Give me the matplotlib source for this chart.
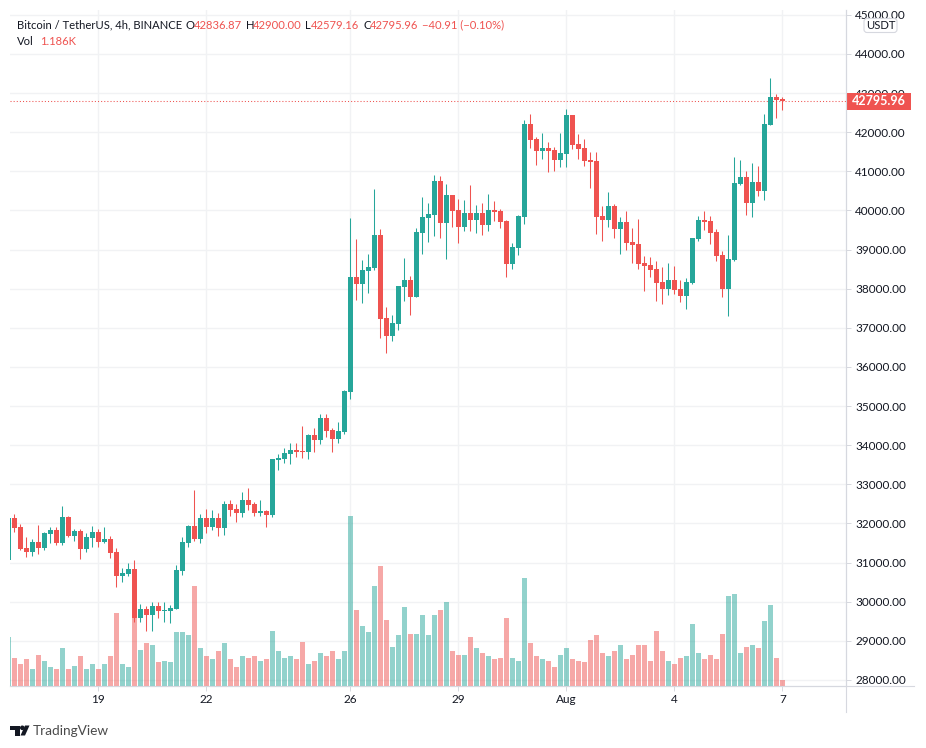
"""BTC/USDT 4h candlestick chart with volume overlay."""

import matplotlib
matplotlib.use("Agg")

import matplotlib.pyplot as plt
from matplotlib.patches import Circle, FancyBboxPatch, Polygon, Rectangle

W, H = 926, 748
UP = "#26a69a"
DOWN = "#ef5350"
GRID = "#f1f2f4"
AXIS = "#d6d8df"
TEXT = "#131722"
FONT = "Lato"

# candles, oldest first
opens = [
    31060, 32139, 31909, 31372, 31270, 31526, 31372, 31730, 31832, 31500,
    32165, 31679, 31807, 31347, 31628, 31781, 31526, 31602, 31270, 30657,
    30708, 30836, 29583, 29813, 29660, 29890, 29762, 29762, 29813, 30784,
    31500, 31935, 31602, 32139, 31909, 32139, 31884, 32497, 32369, 32267,
    32599, 32497, 32267, 32318, 32216, 33622, 33647, 33775, 33877, 33851,
    33825, 34260, 34132, 34695, 34388, 34158, 34337, 35359, 38298, 38120,
    38452, 38529, 39372, 37251, 36790, 37097, 38043, 38222, 37787, 39423,
    39807, 39883, 40752, 39679, 40394, 40011, 39576, 39934, 39755, 39934,
    39628, 40011, 39985, 39730, 38631, 39040, 39832, 42209, 41825, 41519,
    41595, 41544, 41289, 41442, 42439, 41698, 41595, 41289, 41263, 39857,
    39755, 40113, 39525, 39704, 39193, 39142, 38656, 38605, 38503, 38170,
    37991, 38221, 37991, 37812, 38145, 39269, 39755, 39729, 39448, 38860,
    37991, 38733, 40675, 40854, 40190, 40726, 40496, 42183, 42899, 42836.87,
]
closes = [
    32130, 31892, 31347, 31270, 31526, 31372, 31756, 31832, 31500, 32165,
    31679, 31807, 31347, 31653, 31781, 31526, 31602, 31245, 30657, 30733,
    30836, 29583, 29813, 29660, 29890, 29762, 29788, 29839, 30810, 31526,
    31935, 31602, 32139, 31909, 32139, 31884, 32497, 32344, 32267, 32599,
    32471, 32267, 32318, 32216, 33647, 33673, 33801, 33877, 33826, 33825,
    34260, 34132, 34695, 34362, 34158, 34362, 35385, 38298, 38120, 38477,
    38554, 39372, 37225, 36790, 37123, 38068, 38222, 37787, 39449, 39832,
    39909, 40752, 39679, 40394, 39985, 39576, 39934, 39755, 39934, 39628,
    40011, 39960, 39704, 38631, 39065, 39858, 42209, 41800, 41519, 41595,
    41519, 41289, 41468, 42439, 41672, 41570, 41263, 41237, 39832, 39755,
    40113, 39525, 39704, 39167, 39116, 38630, 38579, 38477, 38145, 37991,
    38221, 37966, 37812, 38170, 39295, 39755, 39704, 39423, 38835, 37991,
    38758, 40701, 40854, 40190, 40726, 40496, 42209, 42899, 42822, 42795.96,
]
highs = [
    32130, 32241, 31986, 31653, 31602, 31960, 31781, 31909, 31909, 32446,
    32190, 31858, 31858, 31756, 31935, 31858, 31909, 31679, 31372, 30861,
    30989, 31066, 29941, 29890, 29992, 29992, 29992, 29915, 30938, 31653,
    31960, 32855, 32241, 32369, 32344, 32267, 32574, 32599, 32497, 32804,
    32906, 32548, 32599, 32344, 33647, 33775, 33928, 34056, 34056, 34490,
    34286, 34439, 34797, 34797, 34439, 34592, 35410, 39807, 39270, 38733,
    38886, 40548, 39525, 37532, 37327, 38068, 38784, 38324, 39551, 40343,
    40190, 40906, 40880, 40676, 40394, 40292, 40267, 40650, 40139, 40190,
    40420, 40241, 40037, 39755, 39168, 39883, 42311, 42464, 41876, 41979,
    41749, 41621, 41979, 42592, 42439, 41953, 41825, 41493, 41493, 40113,
    40471, 40164, 39832, 39985, 39551, 39781, 38835, 38809, 38707, 38554,
    38656, 38579, 38221, 38273, 39295, 39857, 39985, 39857, 39525, 38963,
    39372, 41365, 41289, 41007, 41212, 41135, 42464, 43385, 42976, 42900.00,
]
lows = [
    31060, 31790, 31321, 31142, 31168, 31219, 31321, 31500, 31449, 31449,
    31653, 31551, 31091, 31270, 31398, 31398, 31500, 31117, 30375, 30503,
    30657, 29481, 29481, 29251, 29251, 29583, 29481, 29455, 29813, 30682,
    31398, 31551, 31500, 31756, 31832, 31679, 31705, 32190, 32037, 32165,
    32344, 32190, 32190, 31909, 32165, 33366, 33545, 33519, 33698, 33672,
    33647, 33825, 34030, 34209, 33825, 34056, 34286, 35180, 37711, 37634,
    37890, 38477, 36739, 36356, 36663, 36944, 37685, 37327, 37787, 38886,
    39193, 39346, 39295, 38759, 39576, 39168, 39474, 39474, 39423, 39372,
    39474, 39730, 39551, 38298, 38503, 38861, 39653, 41595, 41161, 41314,
    40982, 41007, 41110, 41110, 41570, 41314, 41135, 40573, 39397, 39218,
    39576, 39295, 38886, 38988, 38656, 38503, 37940, 38298, 37685, 37608,
    37838, 37864, 37659, 37480, 38119, 39218, 39499, 39142, 38707, 37787,
    37301, 38707, 40650, 39883, 39832, 40368, 40266, 42183, 42362, 42579.16,
]
# volume in thousands of BTC
volumes = [
    11.4, 6.6, 5.2, 6.2, 4.0, 7.3, 5.9, 4.5, 3.8, 8.8,
    4.0, 4.7, 6.9, 4.0, 5.0, 4.0, 5.2, 7.1, 17.3, 5.2,
    4.3, 15.9, 8.5, 10.0, 9.5, 5.5, 5.7, 5.5, 12.8, 12.6,
    11.9, 23.5, 8.8, 6.9, 6.4, 8.1, 10.0, 6.4, 4.5, 7.1,
    6.6, 6.9, 5.7, 6.4, 13.0, 8.3, 6.6, 7.1, 6.2, 10.4,
    5.2, 5.9, 7.8, 7.1, 8.1, 6.4, 8.3, 40.1, 18.0, 14.0,
    12.8, 23.5, 28.4, 15.6, 9.2, 11.9, 18.5, 12.3, 12.1, 16.8,
    11.9, 16.8, 18.0, 19.7, 8.3, 7.3, 7.3, 11.6, 9.0, 7.6,
    6.9, 6.2, 6.6, 16.1, 6.6, 5.9, 25.4, 10.0, 6.9, 6.4,
    5.9, 4.5, 7.3, 8.8, 6.4, 5.7, 5.5, 10.9, 11.9, 7.8,
    7.1, 8.3, 9.5, 6.4, 7.3, 9.7, 9.5, 5.7, 13.0, 8.3,
    5.7, 5.2, 6.6, 7.1, 14.7, 7.8, 6.4, 7.3, 6.4, 12.1,
    21.3, 21.6, 7.8, 9.2, 9.5, 8.8, 15.2, 19.2, 6.6, 1.186,
]

date_ticks = [15, 33, 57, 75, 93, 111, 129]
date_labels = ["19", "22", "26", "29", "Aug", "4", "7"]
price_ticks = list(range(28000, 45001, 1000))

last_close = closes[-1]
bar_ids = list(range(len(opens)))
colors = [UP if c >= o else DOWN for o, c in zip(opens, closes)]

plt.rcParams["font.family"] = [FONT, "DejaVu Sans"]
plt.rcParams["font.size"] = 8.5

fig = plt.figure(figsize=(W / 100, H / 100), dpi=100, facecolor="white")
rect = [10 / W, 1 - 685.5 / H, 836 / W, 675.5 / H]

# grid, ticks and price scale sit on the bottom axes
ax = fig.add_axes(rect, zorder=1)
ax.set_xlim(0.28, 139.6)
ax.set_ylim(27859, 45122)
ax.yaxis.tick_right()
ax.set_yticks(price_ticks)
ax.set_yticklabels([f"{p:.2f}" for p in price_ticks], color=TEXT)
ax.set_xticks(date_ticks)
ax.set_xticklabels(date_labels, color=TEXT)
ax.tick_params(axis="both", length=3.6, width=0.7, color=AXIS, pad=3)
ax.tick_params(axis="x", pad=2.5)
ax.grid(True, color=GRID, linewidth=1)
ax.set_axisbelow(True)
for side in ("top", "left"):
    ax.spines[side].set_visible(False)
for side in ("right", "bottom"):
    ax.spines[side].set_color(AXIS)
    ax.spines[side].set_linewidth(0.8)

# volume overlay
ax_vol = fig.add_axes(rect, zorder=2, sharex=ax)
ax_vol.set_ylim(0, 160.2)
ax_vol.patch.set_visible(False)
ax_vol.axis("off")
ax_vol.bar(bar_ids, volumes, width=0.83, color=colors, alpha=0.5, linewidth=0)

# candles on top
ax_c = fig.add_axes(rect, zorder=3, sharex=ax, sharey=ax)
ax_c.patch.set_visible(False)
ax_c.axis("off")
ax_c.axhline(last_close, color=DOWN, linewidth=0.75, linestyle=(0, (1, 2)), zorder=1)
ax_c.vlines(bar_ids, lows, highs, colors=colors, linewidth=0.75, zorder=2)
ax_c.bar(
    bar_ids,
    [abs(c - o) for o, c in zip(opens, closes)],
    bottom=[min(o, c) for o, c in zip(opens, closes)],
    width=0.83,
    color=colors,
    linewidth=0,
    zorder=3,
)

# last price tag on the scale
tag_trans = ax_c.get_yaxis_transform()
ax_c.add_patch(
    Rectangle(
        (1.0, last_close - 217), 65 / 836, 434,
        transform=tag_trans, facecolor=DOWN, edgecolor="none",
        clip_on=False, zorder=4,
    )
)
ax_c.text(
    1.0 + 32.5 / 836,
    last_close,
    f"{last_close:.2f}",
    transform=tag_trans,
    color="white",
    fontweight="bold",
    fontsize=9,
    va="center",
    ha="center",
    clip_on=False,
    zorder=5,
)

# overlay in pixel coordinates for header, badge, logo
ov = fig.add_axes([0, 0, 1, 1], zorder=4)
ov.set_xlim(0, W)
ov.set_ylim(H, 0)
ov.axis("off")

ov.plot([846, 846], [10, 712], color=AXIS, linewidth=0.8)
ov.plot([10, 914], [685.5, 685.5], color=AXIS, linewidth=0.8)

header = [
    (17, "Bitcoin / TetherUS, 4h, BINANCE", TEXT),
    (186, "O", TEXT),
    (194, "42836.87", DOWN),
    (246, "H", TEXT),
    (253, "42900.00", DOWN),
    (305, "L", TEXT),
    (311, "42579.16", DOWN),
    (363, "C", TEXT),
    (370, "42795.96", DOWN),
    (422, "\u221240.91 (\u22120.10%)", DOWN),
]
for x, label, color in header:
    ov.text(x, 25, label, color=color, fontsize=8.1, va="center", ha="left")
ov.text(17, 41, "Vol", color=TEXT, fontsize=8.1, va="center", ha="left")
ov.text(40, 41, "1.186K", color=DOWN, fontsize=8.1, va="center", ha="left")

ov.add_patch(
    FancyBboxPatch(
        (864, 18.5), 33, 14, boxstyle="round,pad=0,rounding_size=3",
        facecolor="white", edgecolor="#d6d8df", linewidth=0.8,
    )
)
ov.text(880.5, 25.5, "USDT", color=TEXT, fontsize=8.1, va="center", ha="center")

# TradingView logo
ov.add_patch(Polygon([(10, 725.5), (19.5, 725.5), (19.5, 735.5), (15, 735.5), (15, 730), (10, 730)], color=TEXT, linewidth=0))
ov.add_patch(Circle((22.3, 727.8), 2.3, color=TEXT, linewidth=0))
ov.add_patch(Polygon([(25, 725.5), (29.5, 725.5), (25, 735.5), (20.5, 735.5)], color=TEXT, linewidth=0))
ov.text(33, 731, "TradingView", color="#4a4a4a", fontsize=9.8, va="center", ha="left")

fig.savefig("out.png", dpi=100)
plt.close(fig)
